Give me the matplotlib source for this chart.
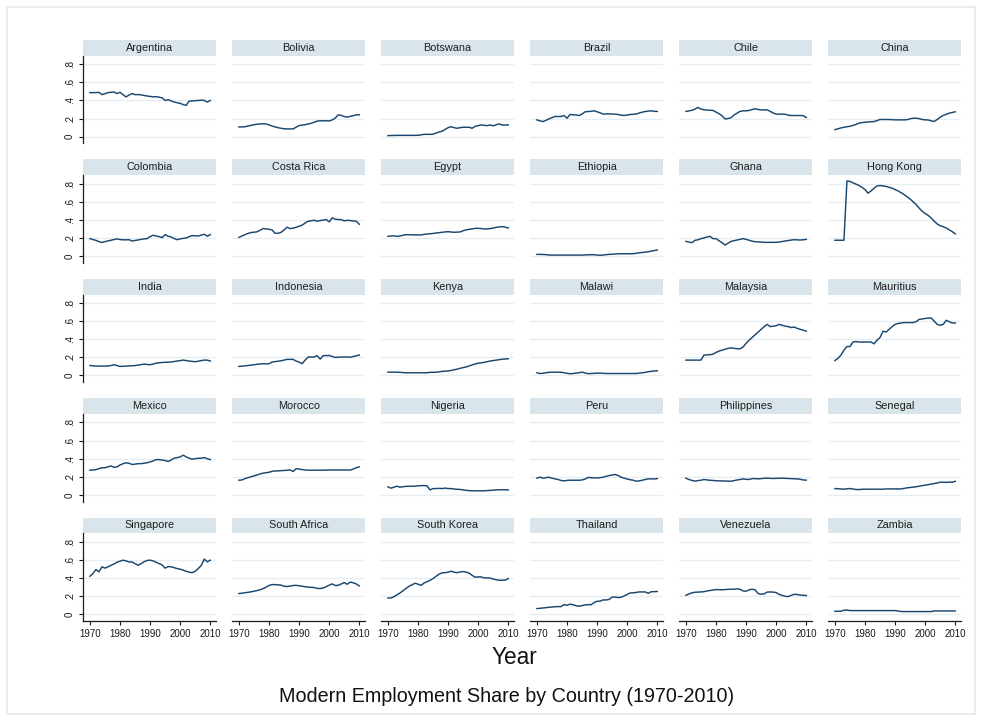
import matplotlib
matplotlib.use("Agg")
import matplotlib.pyplot as plt
from matplotlib.patches import Rectangle

years = list(range(1970, 2011))

argentina = [.487, .487, .487, .49, .465, .475, .487, .49, .494, .476, .49, .465, .44, .46, .476, .465, .465, .462, .455, .45,
             .445, .44, .443, .436, .43, .40, .409, .395, .383, .375, .368, .355, .346, .395, .394, .398, .40, .405, .40, .383, .40]
bolivia = [.108, .108, .11, .118, .125, .132, .138, .141, .142, .141, .13, .118, .108, .10, .093, .087, .086, .086, .086, .105,
           .123, .127, .132, .14, .148, .16, .172, .176, .176, .176, .174, .185, .205, .242, .235, .222, .216, .225, .232, .242, .242]
botswana = [.012, .013, .014, .014, .015, .015, .015, .015, .015, .015, .015, .02, .026, .026, .026, .027, .04, .052, .06, .08,
            .10, .11, .10, .093, .10, .104, .104, .104, .093, .115, .122, .13, .126, .122, .13, .12, .133, .141, .128, .13, .13]
brazil = [.186, .175, .167, .18, .197, .21, .223, .223, .223, .234, .204, .245, .242, .24, .234, .25, .275, .278, .28, .286,
          .275, .264, .249, .252, .252, .25, .249, .245, .238, .234, .24, .245, .248, .25, .262, .271, .278, .283, .286, .28, .279]
chile = [.279, .285, .292, .305, .323, .305, .297, .295, .292, .29, .272, .255, .23, .197, .20, .21, .24, .26, .28, .286,
         .286, .29, .30, .309, .30, .297, .295, .297, .28, .262, .25, .249, .249, .248, .238, .234, .234, .234, .234, .232, .212]
china = [.078, .087, .097, .104, .11, .115, .125, .135, .15, .156, .16, .163, .165, .167, .178, .19, .19, .19, .19, .188,
         .186, .186, .186, .186, .188, .198, .204, .204, .20, .19, .186, .185, .175, .168, .19, .216, .235, .248, .26, .268, .275]
colombia = [.193, .183, .174, .16, .15, .16, .168, .175, .183, .19, .183, .18, .18, .181, .167, .173, .178, .185, .19, .193,
            .215, .23, .222, .215, .204, .237, .22, .211, .195, .181, .19, .196, .20, .215, .226, .224, .222, .232, .241, .219, .237]
costa_rica = [.207, .222, .237, .25, .26, .264, .268, .285, .304, .30, .296, .29, .252, .252, .262, .29, .319, .304, .308, .318,
              .33, .342, .365, .385, .39, .396, .385, .392, .398, .404, .378, .422, .408, .404, .403, .389, .396, .392, .389, .385, .352]
egypt = [.218, .222, .224, .218, .222, .23, .237, .236, .235, .234, .234, .234, .24, .244, .247, .25, .255, .259, .263, .267,
         .27, .266, .263, .265, .267, .28, .29, .296, .30, .307, .307, .304, .30, .30, .304, .31, .318, .322, .326, .32, .31]
ethiopia = [.019, .019, .018, .016, .012, .011, .011, .011, .011, .011, .011, .011, .011, .011, .011, .011, .013, .015, .015, .015,
            .012, .008, .012, .016, .019, .021, .023, .025, .026, .026, .026, .026, .027, .031, .037, .04, .044, .048, .055, .061, .067]
ghana = [.163, .155, .148, .174, .18, .193, .20, .211, .218, .193, .193, .17, .148, .122, .142, .163, .17, .178, .185, .193,
         .185, .175, .165, .159, .157, .155, .152, .152, .152, .152, .152, .156, .161, .167, .172, .177, .181, .179, .178, .18, .185]
hong_kong = [.175, .175, .175, .175, .83, .825, .81, .795, .78, .76, .735, .695, .72, .75, .775, .78, .775, .77, .76, .75,
             .735, .72, .70, .68, .655, .63, .60, .57, .53, .495, .47, .45, .42, .385, .355, .335, .325, .31, .29, .27, .245]
india = [.111, .107, .104, .104, .104, .104, .105, .11, .119, .11, .10, .102, .104, .106, .107, .11, .115, .12, .126, .122,
         .119, .127, .137, .14, .144, .146, .147, .15, .154, .16, .165, .17, .165, .159, .156, .152, .158, .165, .17, .17, .16]
indonesia = [.10, .103, .107, .11, .115, .119, .123, .127, .13, .128, .13, .148, .153, .158, .163, .17, .178, .178, .178, .16,
             .148, .13, .17, .204, .205, .205, .219, .181, .219, .22, .222, .21, .20, .202, .204, .205, .204, .202, .21, .218, .226]
kenya = [.037, .037, .037, .036, .035, .032, .03, .03, .03, .03, .03, .03, .03, .03, .035, .035, .036, .04, .046, .048,
         .05, .056, .063, .07, .08, .087, .095, .105, .117, .127, .137, .14, .145, .153, .16, .165, .17, .175, .18, .182, .185]
malawi = [.03, .022, .025, .03, .035, .037, .036, .036, .036, .03, .025, .019, .022, .026, .03, .037, .028, .02, .022, .024,
          .026, .026, .024, .022, .022, .022, .022, .022, .022, .022, .022, .022, .022, .022, .026, .03, .035, .042, .046, .05, .052]
malaysia = [.17, .17, .17, .17, .17, .17, .225, .228, .23, .235, .255, .27, .28, .29, .30, .305, .30, .295, .295, .315,
            .355, .39, .42, .45, .48, .51, .54, .565, .54, .545, .55, .565, .555, .545, .54, .53, .535, .52, .51, .50, .49]
mauritius = [.165, .19, .225, .28, .32, .32, .37, .375, .37, .37, .37, .37, .37, .35, .39, .42, .49, .48, .51, .54,
             .565, .575, .58, .585, .585, .585, .585, .595, .62, .625, .63, .635, .635, .60, .565, .555, .565, .61, .595, .58, .58]
mexico = [.273, .275, .28, .29, .30, .30, .31, .32, .305, .31, .33, .345, .354, .35, .336, .34, .345, .345, .35, .355,
          .365, .375, .39, .39, .385, .38, .369, .385, .406, .412, .42, .439, .42, .405, .395, .40, .405, .405, .413, .40, .39]
morocco = [.162, .165, .18, .19, .20, .21, .22, .232, .24, .245, .25, .26, .265, .265, .268, .27, .272, .277, .258, .29,
           .285, .28, .275, .273, .273, .273, .273, .273, .273, .274, .275, .275, .275, .275, .275, .275, .275, .275, .285, .30, .31]
nigeria = [.089, .074, .085, .096, .085, .09, .095, .095, .095, .097, .10, .103, .103, .10, .055, .07, .07, .072, .07, .075,
           .07, .07, .065, .062, .06, .055, .05, .047, .045, .045, .045, .045, .045, .048, .05, .052, .055, .057, .057, .056, .055]
peru = [.185, .196, .185, .19, .195, .185, .177, .17, .16, .155, .16, .162, .162, .162, .162, .165, .175, .193, .19, .188,
        .188, .19, .196, .205, .214, .22, .225, .214, .195, .185, .175, .168, .162, .151, .155, .162, .17, .177, .177, .177, .18]
philippines = [.185, .17, .16, .152, .158, .162, .17, .165, .162, .159, .157, .155, .155, .153, .152, .151, .158, .165, .17, .177,
               .172, .17, .18, .18, .177, .18, .183, .185, .183, .181, .183, .184, .185, .183, .181, .18, .178, .177, .172, .165, .163]
senegal = [.07, .068, .065, .063, .068, .07, .065, .06, .059, .062, .063, .063, .063, .063, .063, .063, .063, .066, .066, .066,
           .066, .066, .066, .072, .078, .082, .086, .09, .096, .102, .108, .113, .12, .125, .132, .14, .14, .138, .142, .14, .15]
singapore = [.42, .45, .494, .469, .525, .51, .525, .54, .556, .575, .587, .598, .59, .578, .578, .56, .542, .56, .58, .595,
             .598, .59, .575, .56, .545, .51, .528, .525, .515, .505, .498, .488, .475, .465, .46, .475, .505, .54, .61, .58, .598]
south_africa = [.229, .233, .238, .243, .248, .255, .262, .27, .283, .30, .318, .328, .328, .325, .322, .31, .307, .312, .318, .32,
                .315, .31, .305, .30, .298, .296, .286, .285, .29, .305, .322, .336, .318, .32, .335, .35, .332, .356, .348, .335, .314]
south_korea = [.18, .18, .195, .215, .235, .26, .285, .31, .325, .343, .333, .32, .345, .36, .376, .395, .42, .443, .458, .46,
               .465, .476, .465, .46, .468, .472, .465, .455, .43, .41, .413, .413, .402, .402, .40, .39, .382, .376, .376, .378, .395]
thailand = [.063, .066, .07, .073, .077, .08, .084, .085, .085, .107, .10, .112, .105, .095, .089, .096, .103, .107, .105, .13,
            .144, .145, .159, .158, .165, .19, .19, .185, .188, .203, .22, .236, .237, .242, .247, .247, .247, .232, .25, .25, .252]
venezuela = [.21, .225, .237, .244, .245, .247, .25, .258, .263, .268, .273, .272, .271, .273, .276, .277, .277, .282, .276, .258,
             .255, .27, .277, .27, .229, .221, .226, .245, .247, .245, .24, .22, .208, .199, .196, .21, .221, .218, .213, .21, .207]
zambia = [.033, .033, .034, .045, .047, .041, .041, .041, .041, .041, .041, .041, .041, .041, .041, .041, .041, .041, .041, .041,
          .041, .036, .031, .03, .03, .03, .03, .03, .03, .03, .03, .03, .03, .037, .037, .037, .037, .037, .037, .037, .037]

countries = ["Argentina", "Bolivia", "Botswana", "Brazil", "Chile", "China",
             "Colombia", "Costa Rica", "Egypt", "Ethiopia", "Ghana", "Hong Kong",
             "India", "Indonesia", "Kenya", "Malawi", "Malaysia", "Mauritius",
             "Mexico", "Morocco", "Nigeria", "Peru", "Philippines", "Senegal",
             "Singapore", "South Africa", "South Korea", "Thailand", "Venezuela", "Zambia"]
series = [argentina, bolivia, botswana, brazil, chile, china,
          colombia, costa_rica, egypt, ethiopia, ghana, hong_kong,
          india, indonesia, kenya, malawi, malaysia, mauritius,
          mexico, morocco, nigeria, peru, philippines, senegal,
          singapore, south_africa, south_korea, thailand, venezuela, zambia]

y_ticks = [0, .2, .4, .6, .8]
y_tick_labels = ["0", ".2", ".4", ".6", ".8"]
x_ticks = [1970, 1980, 1990, 2000, 2010]

plt.rcParams["font.family"] = ["Liberation Sans", "DejaVu Sans"]

W, H = 982, 721
fig = plt.figure(figsize=(W / 100, H / 100), dpi=100)
fig.patch.set_facecolor("white")

# outer graph-region frame
fig.add_artist(Rectangle((7 / W, 7 / H), (W - 14) / W, (H - 14) / H, transform=fig.transFigure,
                         fill=False, edgecolor="#e3eaed", linewidth=1.2))

NAVY = "#1a476f"
GRID = "#e6eef1"
STRIP = "#d9e5ea"

ncols, nrows = 6, 5
col_x0, col_step, panel_w = 83.3, 149.0, 132.7
row_y0, row_step, strip_h, plot_h = 40.0, 119.4, 15.7, 87.6

for i, (name, vals) in enumerate(zip(countries, series)):
    r, c = divmod(i, ncols)
    left = col_x0 + c * col_step
    top = row_y0 + r * row_step
    # strip with the country name
    sax = fig.add_axes([left / W, 1 - (top + strip_h) / H, panel_w / W, strip_h / H])
    sax.set_facecolor(STRIP)
    sax.set_xticks([]); sax.set_yticks([])
    for s in sax.spines.values():
        s.set_visible(False)
    sax.text(0.5, 0.5, name, ha="center", va="center", fontsize=7.8, color="#1e1e1e",
             transform=sax.transAxes)
    # plot region
    ptop = top + strip_h
    ax = fig.add_axes([left / W, 1 - (ptop + plot_h) / H, panel_w / W, plot_h / H])
    ax.set_xlim(1967.8, 2011.9)
    ax.set_ylim(-0.073, 0.895)
    for yv in y_ticks:
        ax.axhline(yv, color=GRID, linewidth=1.0, zorder=0)
    ax.plot(years, vals, color=NAVY, linewidth=1.05, zorder=2)
    for s in ax.spines.values():
        s.set_visible(False)
    ax.set_yticks(y_ticks)
    ax.set_xticks(x_ticks)
    if c == 0:
        ax.spines["left"].set_visible(True)
        ax.spines["left"].set_color("#1a1a1a")
        ax.spines["left"].set_linewidth(0.9)
        ax.set_yticklabels(y_tick_labels, rotation=90, va="center", fontsize=7)
        ax.tick_params(axis="y", length=3, width=0.8, color="#1a1a1a", pad=3, labelcolor="#1a1a1a")
    else:
        ax.tick_params(axis="y", left=False, labelleft=False)
    if r == nrows - 1:
        ax.spines["bottom"].set_visible(True)
        ax.spines["bottom"].set_color("#1a1a1a")
        ax.spines["bottom"].set_linewidth(0.9)
        ax.set_xticklabels([str(x) for x in x_ticks], fontsize=7)
        ax.tick_params(axis="x", length=3, width=0.8, color="#1a1a1a", pad=2.5, labelcolor="#1a1a1a")
    else:
        ax.tick_params(axis="x", bottom=False, labelbottom=False)

fig.text(514 / W, 1 - 658 / H, "Year", ha="center", va="center", fontsize=16.3, color="#111111")
fig.text(507 / W, 1 - 697 / H, "Modern Employment Share by Country (1970-2010)", ha="center", va="center",
         fontsize=14.2, color="#111111")

fig.savefig("out.png", dpi=100, facecolor="white")
